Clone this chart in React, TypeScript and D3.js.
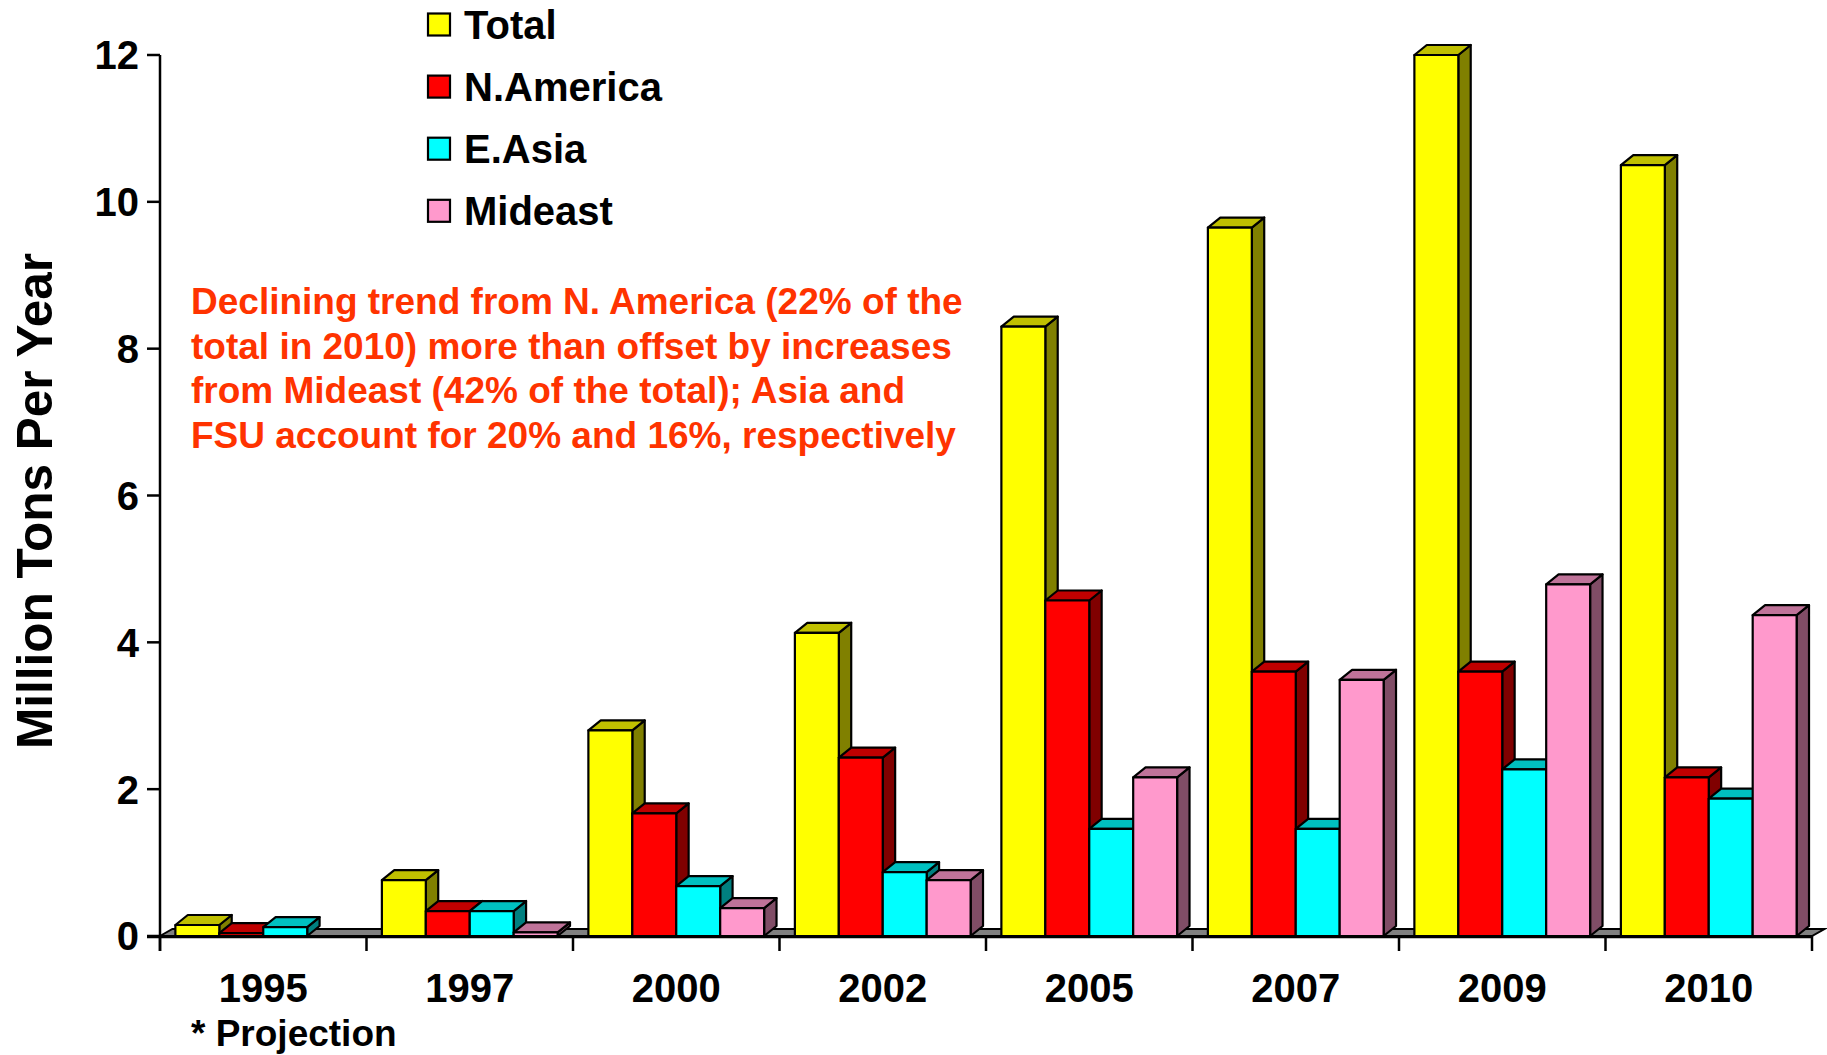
import React, { useEffect } from "react";
import * as d3 from "d3";

const years = ["1995", "1997", "2000", "2002", "2005", "2007", "2009", "2010"];
const seriesNames = ["Total", "N.America", "E.Asia", "Mideast"];
const totalValues = [0.15, 0.76, 2.8, 4.13, 8.3, 9.65, 12.0, 10.5];
const nAmericaValues = [0.04, 0.34, 1.67, 2.43, 4.57, 3.6, 3.6, 2.16];
const eAsiaValues = [0.12, 0.34, 0.68, 0.87, 1.46, 1.46, 2.27, 1.87];
const mideastValues = [0, 0.05, 0.38, 0.76, 2.16, 3.49, 4.79, 4.37];
const yTicks = [0, 2, 4, 6, 8, 10, 12];
const noteLines = [
  "Declining trend from N. America (22% of the",
  "total in 2010) more than offset by increases",
  "from Mideast (42% of the total); Asia and",
  "FSU account for 20% and 16%, respectively",
];

const seriesValues = [totalValues, nAmericaValues, eAsiaValues, mideastValues];
// front, top, side
const palette = [
  ["#ffff00", "#c0c000", "#808000"],
  ["#ff0000", "#c00000", "#800000"],
  ["#00ffff", "#00c0c0", "#008080"],
  ["#ff99cc", "#bf7399", "#804d66"],
];

const W = 1827;
const H = 1055;
const left = 160;
const right = 1812;
const base = 936;
const top = 55;
const dx = 12.4;
const dy = 10;
const font = "'Liberation Sans', Arial, sans-serif";

export default function App() {
  useEffect(() => {
    document.body.style.margin = "0";
  }, []);

  const x0 = d3.scaleBand().domain(years).range([left, right]);
  const x1 = d3
    .scaleBand()
    .domain(seriesNames)
    .range([0, x0.bandwidth()])
    .paddingInner(0)
    .paddingOuter(0.35);
  const y = d3.scaleLinear().domain([0, 12]).range([base, top]);
  const bw = x1.bandwidth();

  const bars: React.ReactNode[] = [];
  years.forEach((yr, gi) => {
    seriesNames.forEach((s, si) => {
      const v = seriesValues[si][gi];
      if (!v) return;
      const xl = (x0(yr) || 0) + (x1(s) || 0);
      const xr = xl + bw;
      const yt = y(v);
      const [cf, ct, cs] = palette[si];
      const side = [
        [xr, yt],
        [xr + dx, yt - dy],
        [xr + dx, base - dy],
        [xr, base],
      ];
      const topFace = [
        [xl, yt],
        [xl + dx, yt - dy],
        [xr + dx, yt - dy],
        [xr, yt],
      ];
      bars.push(
        <g key={yr + s} stroke="#000" strokeWidth={2.2} strokeLinejoin="round">
          <polygon points={side.join(" ")} fill={cs} />
          <polygon points={topFace.join(" ")} fill={ct} />
          <rect x={xl} y={yt} width={bw} height={base - yt} fill={cf} />
        </g>
      );
    });
  });

  const floor = [
    [left, base],
    [left + dx, base - 7],
    [right + dx, base - 7],
    [right, base],
  ];

  const ticksX = d3.range(years.length + 1).map((i) => left + i * x0.step());

  return (
    <svg width={W} height={H} style={{ display: "block", background: "#fff" }} fontFamily={font} fontWeight="bold">
      <polygon points={floor.join(" ")} fill="#808080" stroke="#000" strokeWidth={2} />
      {bars}
      {/* axes */}
      <line x1={left} x2={left} y1={top} y2={951} stroke="#000" strokeWidth={2.5} />
      <line x1={147} x2={right} y1={base + 1} y2={base + 1} stroke="#000" strokeWidth={2.5} />
      {yTicks.map((t) => (
        <g key={t}>
          <line x1={147} x2={left} y1={y(t)} y2={y(t)} stroke="#000" strokeWidth={2.5} />
          <text x={139} y={y(t)} dy="0.36em" textAnchor="end" fontSize={40}>
            {t}
          </text>
        </g>
      ))}
      {ticksX.map((tx, i) => (
        <line key={i} x1={tx} x2={tx} y1={base} y2={951} stroke="#000" strokeWidth={2.5} />
      ))}
      {years.map((yr) => (
        <text key={yr} x={(x0(yr) || 0) + x0.bandwidth() / 2} y={1002} textAnchor="middle" fontSize={40}>
          {yr}
        </text>
      ))}
      <text x={191} y={1046} fontSize={37}>
        * Projection
      </text>
      <text
        transform={`translate(52,501) rotate(-90)`}
        textAnchor="middle"
        fontSize={49.5}
      >
        Million Tons Per Year
      </text>
      {/* legend */}
      {seriesNames.map((s, i) => {
        const cy = 24.5 + i * 62.1;
        return (
          <g key={s}>
            <rect x={428} y={cy - 11} width={22} height={22} fill={palette[i][0]} stroke="#000" strokeWidth={2.2} />
            <text x={464} y={cy} dy="0.36em" fontSize={40}>
              {s}
            </text>
          </g>
        );
      })}
      {noteLines.map((l, i) => (
        <text key={i} x={191} y={314 + i * 44.6} fontSize={37} fill="#ff3300">
          {l}
        </text>
      ))}
    </svg>
  );
}
